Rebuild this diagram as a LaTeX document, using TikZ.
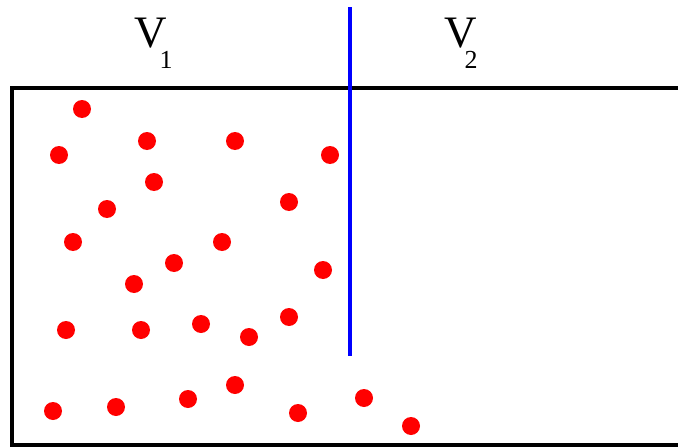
\documentclass[tikz,border=0pt]{standalone}
\usepackage{fontspec}
\setmainfont{Liberation Serif}
\newcommand{\volsub}[2]{{\fontsize{45}{45}\selectfont V}\kern#2\raisebox{-21pt}{\fontsize{26}{26}\selectfont #1}}
\begin{document}
\begin{tikzpicture}[x=1pt,y=-1pt,
  dot/.style={circle,fill=red,draw=none,minimum size=18pt,inner sep=0pt},
  wall/.style={line width=4pt,black},
  lbl/.style={inner sep=0pt,anchor=base west}]
\useasboundingbox (0,0) rectangle (678,447);
\draw[wall] (690,88) -- (12,88) -- (12,445) -- (690,445);
\draw[line width=3.5pt,blue] (350,7) -- (350,356);
\node[lbl] (v1) at (134,47) {\volsub{1}{-7pt}};
\node[lbl] (v2) at (444,47) {\volsub{2}{-12pt}};
\foreach \x/\y [count=\i] in {82/109,59/155,147/141,235/141,330/155,154/182,107/209,289/202,73/242,222/242,174/263,134/284,323/270,66/330,141/330,201/324,249/337,289/317,53/411,116/407,188/399,235/385,298/413,364/398,411/426}
  \node[dot] (d\i) at (\x,\y) {};
\end{tikzpicture}
\end{document}
